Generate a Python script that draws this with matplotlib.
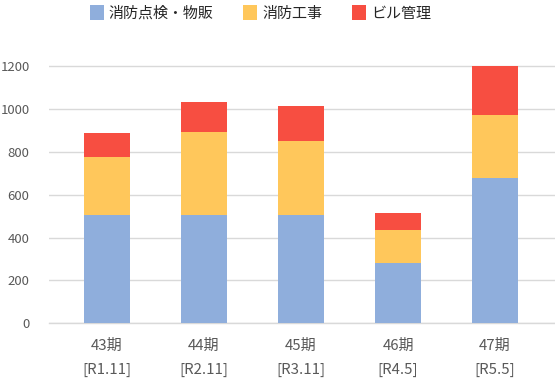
import matplotlib
matplotlib.use("Agg")
import matplotlib.pyplot as plt
import numpy as np

plt.rcParams['font.family'] = ['Noto Sans CJK JP', 'DejaVu Sans']

periods = ["43期", "44期", "45期", "46期", "47期"]
dates = ["[R1.11]", "[R2.11]", "[R3.11]", "[R4.5]", "[R5.5]"]
series_names = ["消防点検・物販", "消防工事", "ビル管理"]
inspection = [506, 506, 506, 283, 679]
construction = [268, 385, 346, 152, 294]
building = [113, 141, 162, 79, 229]
colors = ["#8FAEDC", "#FFC75B", "#F74E41"]
yticks = [0, 200, 400, 600, 800, 1000, 1200]

fig = plt.figure(figsize=(5.55, 3.78), dpi=100)
ax = fig.add_axes([49/555, (378-323.3)/378, 1-49/555, (323.3-55.3)/378])

x = np.arange(len(periods))
bottom = np.zeros(len(periods))
handles = []
for vals, c, name in zip([inspection, construction, building], colors, series_names):
    b = ax.bar(x, vals, 0.48, bottom=bottom, color=c, label=name, zorder=3)
    handles.append(b)
    bottom += np.array(vals)

ax.set_xlim((49-107)/97, (555-107)/97)
ax.set_ylim(0, 1250)
ax.set_yticks(yticks)
ax.set_yticklabels([str(v) for v in yticks], fontsize=9.5, color="#595959")
ax.set_xticks(x)
ax.set_xticklabels([f"{p}\n{d}" for p, d in zip(periods, dates)], fontsize=10.8,
                   color="#595959", linespacing=1.95)
ax.tick_params(axis='both', length=0)
ax.tick_params(axis='y', pad=14)
ax.tick_params(axis='x', pad=11)
ax.grid(axis='y', color="#D9D9D9", linewidth=1, zorder=0)
for s in ["top", "right", "left"]:
    ax.spines[s].set_visible(False)
ax.spines["bottom"].set_color("#D9D9D9")
ax.spines["bottom"].set_linewidth(1)

fs = 10.8
px = fs * 100 / 72
fig.legend(handles=handles, labels=series_names, loc='center',
           bbox_to_anchor=(260.5/555, 1-13/378), ncol=3, frameon=False,
           fontsize=fs, handlelength=14/px, handleheight=16/px,
           handletextpad=5/px, columnspacing=30/px, borderpad=0,
           labelcolor="#262626")

fig.savefig("out.png", dpi=100)
